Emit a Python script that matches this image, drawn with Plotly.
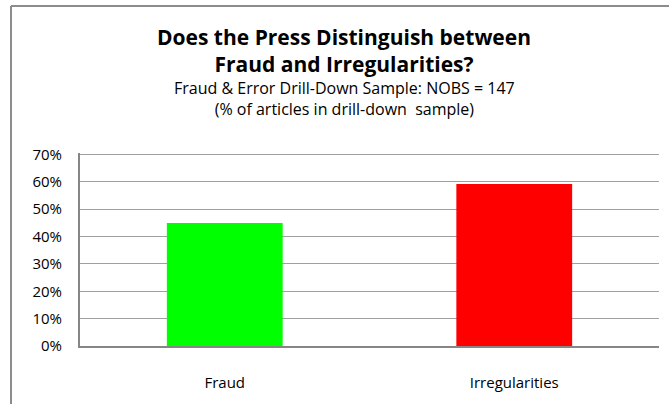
import plotly.graph_objects as go

# Share of drill-down articles mentioning each term
categories = ["Fraud", "Irregularities"]
shares = [0.449, 0.592]
bar_colors = ["#00ff00", "#ff0000"]

title_lines = ["Does the Press Distinguish between", "Fraud and Irregularities?"]
subtitle_lines = [
    "Fraud & Error Drill-Down Sample: NOBS = 147",
    "(% of articles in drill-down  sample)",
]

W, H = 669, 404
L, R, T, B = 80, 10, 153, 58
plot_w = W - L - R
plot_h = H - T - B
y_top = 0.705  # a touch above 70% so the top gridline is drawn


def px_x(x):
    return (x - L) / plot_w


def px_y(y):
    return (H - B - y) / plot_h


fig = go.Figure(
    go.Bar(
        x=categories,
        y=shares,
        marker=dict(color=bar_colors, line=dict(width=0)),
        width=0.4,
        hoverinfo="skip",
    )
)

font = "Open Sans, Lato, sans-serif"
fig.add_annotation(
    text="<b>" + "<br>".join(title_lines) + "</b>",
    xref="paper", yref="paper",
    x=px_x(344), y=px_y(50),
    xanchor="center", yanchor="middle",
    showarrow=False, align="center",
    font=dict(family=font, size=21, color="#000000"),
)
fig.add_annotation(
    text="<br>".join(subtitle_lines),
    xref="paper", yref="paper",
    x=px_x(344), y=px_y(98),
    xanchor="center", yanchor="middle",
    showarrow=False, align="center",
    font=dict(family=font, size=16, color="#000000"),
)

# chart frame (top and left edges)
frame = dict(color="#8c8c8c", width=2)
fig.add_shape(type="line", xref="paper", yref="paper",
              x0=px_x(11), x1=px_x(W + 5), y0=px_y(6), y1=px_y(6), line=frame)
fig.add_shape(type="line", xref="paper", yref="paper",
              x0=px_x(11), x1=px_x(11), y0=px_y(6), y1=px_y(H + 5), line=frame)

fig.update_layout(
    width=W, height=H,
    margin=dict(l=L, r=R, t=T, b=B, pad=0),
    paper_bgcolor="white", plot_bgcolor="white",
    showlegend=False,
    font=dict(family=font, color="#000000"),
    xaxis=dict(
        showgrid=False, showline=True, linecolor="#868686", linewidth=2,
        ticks="", tickfont=dict(size=15), ticklabelstandoff=22,
        range=[-0.5, 1.5], fixedrange=True,
    ),
    yaxis=dict(
        range=[0, y_top], tick0=0, dtick=0.1, tickformat=".0%",
        showgrid=True, gridcolor="#a0a0a0", gridwidth=1,
        showline=True, linecolor="#868686", linewidth=2,
        ticks="", tickfont=dict(size=15), ticklabelstandoff=13,
        zeroline=False, fixedrange=True,
    ),
)

fig.write_html("out.html")
